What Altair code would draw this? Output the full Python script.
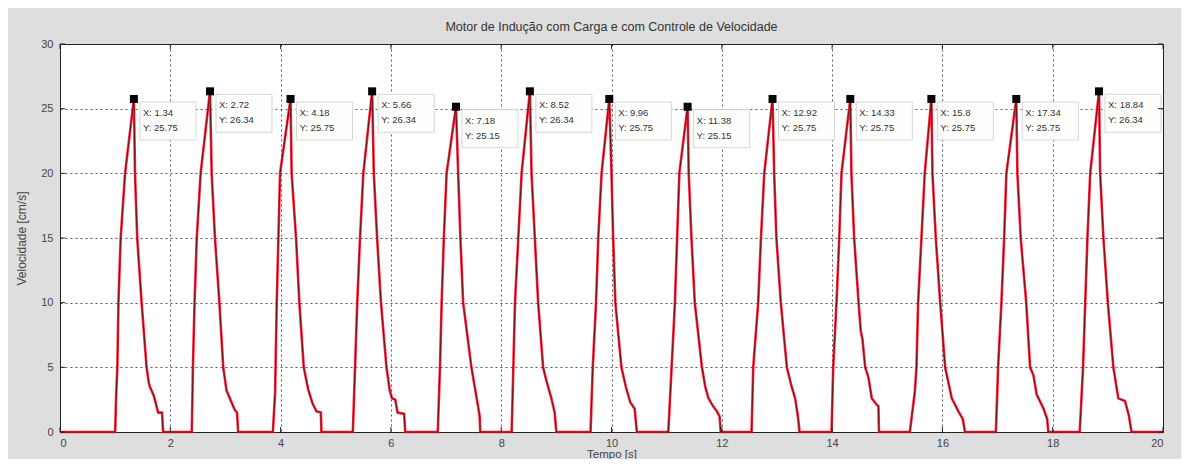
import altair as alt
import pandas as pd

# ---------------- data ----------------
TITLE = "Motor de Indução com Carga e com Controle de Velocidade"
X_TITLE = "Tempo [s]"
Y_TITLE = "Velocidade [cm/s]"

X_TICKS = [0, 2, 4, 6, 8, 10, 12, 14, 16, 18, 20]
Y_TICKS = [0, 5, 10, 15, 20, 25, 30]

# one list per pulse: time [s] and speed [cm/s]
PULSE_T = [
    [1.00, 1.02, 1.04, 1.06, 1.10, 1.18, 1.34, 1.36, 1.40, 1.48, 1.57, 1.61, 1.63, 1.70, 1.72, 1.78, 1.85, 1.87],
    [2.39, 2.41, 2.44, 2.48, 2.55, 2.72, 2.75, 2.81, 2.89, 2.96, 3.02, 3.10, 3.17, 3.21, 3.23],
    [3.86, 3.90, 3.93, 3.96, 3.99, 4.18, 4.20, 4.28, 4.34, 4.42, 4.50, 4.58, 4.65, 4.73, 4.74],
    [5.31, 5.35, 5.39, 5.44, 5.50, 5.66, 5.69, 5.75, 5.82, 5.92, 5.98, 6.02, 6.08, 6.12, 6.24, 6.26],
    [6.85, 6.89, 6.92, 6.96, 7.01, 7.18, 7.22, 7.26, 7.31, 7.46, 7.52, 7.58, 7.61, 7.62],
    [8.19, 8.22, 8.25, 8.31, 8.37, 8.52, 8.55, 8.61, 8.67, 8.76, 8.80, 8.85, 8.91, 8.97, 9.00],
    [9.62, 9.66, 9.72, 9.76, 9.82, 9.96, 10.00, 10.03, 10.07, 10.18, 10.26, 10.34, 10.42, 10.46],
    [11.03, 11.09, 11.15, 11.19, 11.23, 11.38, 11.40, 11.45, 11.51, 11.64, 11.70, 11.76, 11.84, 11.91, 11.96, 11.98],
    [12.54, 12.57, 12.66, 12.71, 12.77, 12.92, 12.95, 12.99, 13.07, 13.18, 13.26, 13.33, 13.38, 13.41],
    [13.99, 14.02, 14.08, 14.13, 14.17, 14.33, 14.35, 14.40, 14.48, 14.52, 14.55, 14.60, 14.66, 14.72, 14.81, 14.84, 14.85],
    [15.41, 15.50, 15.53, 15.56, 15.62, 15.68, 15.80, 15.82, 15.88, 15.96, 16.05, 16.10, 16.17, 16.29, 16.37, 16.41],
    [16.97, 17.01, 17.07, 17.12, 17.16, 17.34, 17.36, 17.42, 17.52, 17.59, 17.65, 17.71, 17.83, 17.90, 17.92],
    [18.49, 18.55, 18.59, 18.63, 18.68, 18.84, 18.86, 18.92, 19.00, 19.10, 19.19, 19.31, 19.38, 19.43],
]
PULSE_V = [
    [0, 3, 5, 10, 15, 20, 25.75, 20, 15, 10, 5, 3.8, 3.5, 2.8, 2.5, 1.5, 1.5, 0],
    [0, 5, 10, 15, 20, 26.34, 20, 15, 10, 5, 3.2, 2.4, 1.7, 1.5, 0],
    [0, 3, 10, 15, 20, 25.75, 20, 15, 10, 5, 3.3, 2.2, 1.6, 1.5, 0],
    [0, 5, 10, 15, 20, 26.34, 20, 15, 10, 5, 3.2, 2.6, 2.5, 1.5, 1.4, 0],
    [0, 5, 10, 15, 20, 25.15, 20, 15, 10, 5, 3.5, 2.0, 1.2, 0],
    [0, 5, 10, 15, 20, 26.34, 20, 15, 10, 5, 4.3, 3.5, 2.6, 1.5, 0],
    [0, 5, 10, 15, 20, 25.75, 20, 15, 10, 5, 3.5, 2.3, 1.8, 0],
    [0, 5, 10, 15, 20, 25.15, 20, 15, 10, 5, 3.5, 2.6, 2.0, 1.6, 1.2, 0],
    [0, 5, 10, 15, 20, 25.75, 20, 15, 10, 5, 3.6, 2.6, 1.2, 0],
    [0, 5, 10, 15, 20, 25.75, 20, 15, 10, 7.8, 7.2, 5, 4.2, 2.6, 2.1, 2.0, 0],
    [0, 3.1, 5, 10, 15, 20, 25.75, 20, 15, 10, 5, 4.0, 2.6, 1.6, 1.0, 0],
    [0, 5, 10, 15, 20, 25.75, 20, 15, 10, 5, 4.4, 2.9, 1.85, 1.0, 0],
    [0, 5, 10, 15, 20, 26.34, 20, 15, 10, 5, 2.6, 2.4, 1.3, 0],
]

# data tips
TIP_X = [1.34, 2.72, 4.18, 5.66, 7.18, 8.52, 9.96, 11.38, 12.92, 14.33, 15.8, 17.34, 18.84]
TIP_Y = [25.75, 26.34, 25.75, 26.34, 25.15, 26.34, 25.75, 25.15, 25.75, 25.75, 25.75, 25.75, 26.34]

# ---------------- tables ----------------
t_all, v_all = [0.0], [0.0]
for ts, vs in zip(PULSE_T, PULSE_V):
    t_all += ts
    v_all += vs
t_all.append(20.0)
v_all.append(0.0)
trace = pd.DataFrame({"t": t_all, "v": v_all, "i": range(len(t_all))})

tips = pd.DataFrame({
    "x": TIP_X,
    "y": TIP_Y,
    "lx": [f"X: {x}" for x in TIP_X],
    "ly": [f"Y: {y}" for y in TIP_Y],
})
xt = pd.DataFrame({"x": X_TICKS})
yt = pd.DataFrame({"y": Y_TICKS})

W, H = 1103, 388
FONT = "Liberation Sans"

xscale = alt.Scale(domain=[0, 20], nice=False, zero=False)
yscale = alt.Scale(domain=[0, 30], nice=False, zero=False)

X = alt.X("t:Q", scale=xscale, title=X_TITLE,
          axis=alt.Axis(values=X_TICKS, grid=True, ticks=False, labelPadding=5,
                        titlePadding=0, titleFontSize=11.5, format="d"))
Y = alt.Y("v:Q", scale=yscale, title=Y_TITLE,
          axis=alt.Axis(values=Y_TICKS, grid=True, ticks=False, labelPadding=7,
                        titlePadding=12, format="d"))

base = alt.Chart(trace)

red = base.mark_line(color="#ff1028", strokeWidth=2.6, opacity=0.9, interpolate="linear").encode(
    x=X, y=Y, order="i:Q")
dark = base.mark_line(color="#4a0c10", strokeWidth=0.9, opacity=0.85, interpolate="linear").encode(
    x=alt.X("t:Q", scale=xscale), y=alt.Y("v:Q", scale=yscale), order="i:Q")

tipbase = alt.Chart(tips).encode(
    x=alt.X("x:Q", scale=xscale), y=alt.Y("y:Q", scale=yscale))

boxes = tipbase.mark_rect(width=56, height=38, xOffset=34, yOffset=22,
                          fill="#fefefc", stroke="#d6d6d6", strokeWidth=1)
markers = tipbase.mark_square(size=64, color="black", opacity=1, filled=True)
tx = tipbase.mark_text(align="left", baseline="middle", dx=9, dy=14, fontSize=9.5,
                       font=FONT, color="#333").encode(text="lx:N")
ty = tipbase.mark_text(align="left", baseline="middle", dx=9, dy=29, fontSize=9.5,
                       font=FONT, color="#333").encode(text="ly:N")

TL = 5
ytick_l = alt.Chart(yt).mark_rule(color="#222").encode(
    y=alt.Y("y:Q", scale=yscale), x=alt.value(0), x2=alt.value(TL))
ytick_r = alt.Chart(yt).mark_rule(color="#222").encode(
    y=alt.Y("y:Q", scale=yscale), x=alt.value(W - TL), x2=alt.value(W))
xtick_b = alt.Chart(xt).mark_rule(color="#222").encode(
    x=alt.X("x:Q", scale=xscale), y=alt.value(H), y2=alt.value(H - TL))
xtick_t = alt.Chart(xt).mark_rule(color="#222").encode(
    x=alt.X("x:Q", scale=xscale), y=alt.value(0), y2=alt.value(TL))

chart = alt.layer(
    red, dark, boxes, markers, tx, ty, ytick_l, ytick_r, xtick_b, xtick_t
).properties(
    width=W, height=H,
    title=alt.TitleParams(TITLE, fontSize=12.5, font=FONT, fontWeight="normal",
                          color="#333", offset=5, anchor="middle"),
    background="#dedede",
    padding={"left": 52, "top": 36, "right": 18, "bottom": 27},
    autosize=alt.AutoSizeParams(type="none"),
).configure_view(
    fill="white", stroke="#222", strokeWidth=1
).configure_axis(
    labelFont=FONT, labelFontSize=11, labelColor="#444",
    titleFont=FONT, titleFontSize=12, titleFontWeight="normal", titleColor="#444",
    domain=True, domainColor="#222",
    gridColor="#222", gridDash=[2, 3], gridOpacity=0.75, gridWidth=1,
)

chart.save("out.html", embed_options={"renderer": "svg", "actions": False})
